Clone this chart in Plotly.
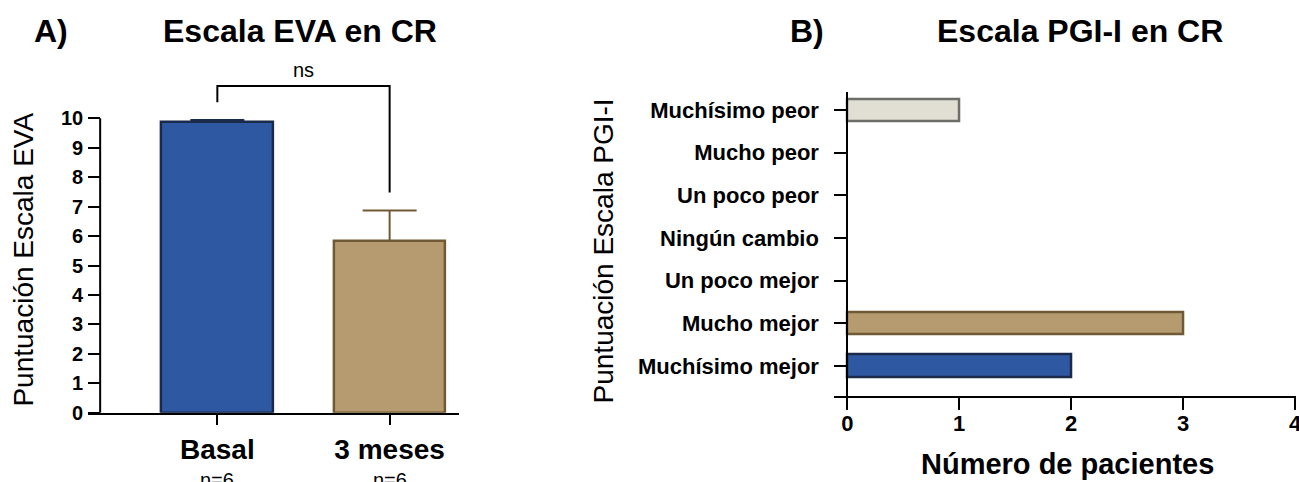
import plotly.graph_objects as go

# ---- data ----
eva_groups = ["Basal", "3 meses"]
eva_means = [9.87, 5.83]
eva_sem = [0.07, 1.04]
eva_n = ["n=6", "n=6"]

pgi_categories = ["Muchísimo mejor", "Mucho mejor", "Un poco mejor", "Ningún cambio",
                  "Un poco peor", "Mucho peor", "Muchísimo peor"]
pgi_counts = [2, 3, 0, 0, 0, 0, 1]

# ---- styling ----
W, H = 1307, 494
REF_W, REF_H = 1299, 482  # layout positions below are given on a 1299x482 grid
FONT = "Liberation Sans, Arial, sans-serif"
eva_fill = ["#2F58A3", "#B59B6F"]
eva_edge = ["#1B2A4A", "#6F5A35"]
pgi_fill = {"Muchísimo mejor": "#2F58A3", "Mucho mejor": "#B59B6F", "Muchísimo peor": "#E1DED3"}
pgi_edge = {"Muchísimo mejor": "#1B2A4A", "Mucho mejor": "#6F5A35", "Muchísimo peor": "#6E6E68"}


def px(x):
    return x / REF_W


def py(y):
    return 1 - y / REF_H


fig = go.Figure()

# Panel A: bars with upper SEM
for g, m, e, fc, ec in zip(eva_groups, eva_means, eva_sem, eva_fill, eva_edge):
    fig.add_trace(go.Bar(
        x=[g], y=[m], width=0.65, xaxis="x", yaxis="y",
        marker=dict(color=fc, line=dict(color=ec, width=2.5)),
        error_y=dict(type="data", array=[e], arrayminus=[0], symmetric=False,
                     color=ec, thickness=2, width=27),
        showlegend=False, hoverinfo="skip",
    ))

# significance bracket between the two groups
fig.add_trace(go.Scatter(
    x=[eva_groups[0], eva_groups[0], eva_groups[1], eva_groups[1]],
    y=[10.54, 11.09, 11.09, 7.48],
    mode="lines", line=dict(color="black", width=2),
    xaxis="x", yaxis="y", showlegend=False, hoverinfo="skip",
))

# Panel B: horizontal bars (non-empty categories)
drawn = [(c, v) for c, v in zip(pgi_categories, pgi_counts) if v > 0]
fig.add_trace(go.Bar(
    y=[c for c, _ in drawn], x=[v for _, v in drawn], orientation="h", width=0.53,
    xaxis="x2", yaxis="y2",
    marker=dict(color=[pgi_fill[c] for c, _ in drawn],
                line=dict(color=[pgi_edge[c] for c, _ in drawn], width=2.5)),
    showlegend=False, hoverinfo="skip",
))

ax_common = dict(showgrid=False, zeroline=False, ticks="outside", tickwidth=2,
                 tickcolor="black", linecolor="black", linewidth=2,
                 ticklabeloverflow="allow")

fig.update_layout(
    width=W, height=H, autosize=False, margin=dict(l=0, r=0, t=0, b=0, pad=0),
    plot_bgcolor="white", paper_bgcolor="white",
    font=dict(family=FONT, color="black"),
    bargap=0,
    xaxis=dict(domain=[px(88), px(458)], anchor="y", type="category",
               categoryorder="array", categoryarray=eva_groups,
               range=[-0.75, 1.401], showline=True, ticklen=10,
               tickfont=dict(size=28, weight="bold"), ticklabelstandoff=1, **ax_common),
    yaxis=dict(domain=[py(412), py(55)], anchor="free", position=px(100),
               range=[0, 12.14], showline=False, tickvals=list(range(0, 11)),
               ticklen=12, tickfont=dict(size=20, weight="bold"),
               ticklabelstandoff=1, **ax_common),
    xaxis2=dict(domain=[px(833), px(1294)], anchor="y2", range=[-0.116, 4.008],
                tickvals=[0, 1, 2, 3, 4], showline=True, ticklen=12,
                tickfont=dict(size=22, weight="bold"), ticklabelstandoff=-5, **ax_common),
    yaxis2=dict(domain=[py(395), py(92)], anchor="free", position=px(846),
                type="category", categoryorder="array", categoryarray=pgi_categories,
                range=[-0.7, 6.42], showline=True, ticklen=12,
                tickfont=dict(size=22, weight="bold"), ticklabelstandoff=11, **ax_common),
)

# y-axis line of panel A stops at the top tick
fig.add_shape(type="line", xref="paper", yref="y", x0=px(100), x1=px(100), y0=0, y1=10,
              line=dict(color="black", width=2))

ann = []
# panel labels and titles
ann.append(dict(text="<b>A)</b>", x=px(51), y=py(31), font=dict(size=32)))
ann.append(dict(text="<b>Escala EVA en CR</b>", x=px(300), y=py(31), font=dict(size=32)))
ann.append(dict(text="<b>B)</b>", x=px(806), y=py(31), font=dict(size=32)))
ann.append(dict(text="<b>Escala PGI-I en CR</b>", x=px(1078), y=py(31), font=dict(size=32)))
# axis titles
ann.append(dict(text="Puntuación Escala EVA", x=px(24), y=py(259), textangle=-90,
                font=dict(size=28)))
ann.append(dict(text="Puntuación Escala PGI-I", x=px(603), y=py(250), textangle=-90,
                font=dict(size=28)))
ann.append(dict(text="<b>Número de pacientes</b>", x=px(1066), y=py(463), font=dict(size=29)))
# significance label
ann.append(dict(text="ns", xref="x", yref="y", x=0.5, y=11.63, font=dict(size=20)))
# group sizes under the category labels
for g, n in zip(eva_groups, eva_n):
    ann.append(dict(text=n, xref="x", yref="paper", x=g, y=py(479), font=dict(size=20)))

for a in ann:
    a.setdefault("xref", "paper")
    a.setdefault("yref", "paper")
    a.update(showarrow=False, xanchor="center", yanchor="middle")
    a["font"] = dict(family=FONT, color="black", **a["font"])
    fig.add_annotation(**a)

fig.write_html("out.html", config={"responsive": False})
